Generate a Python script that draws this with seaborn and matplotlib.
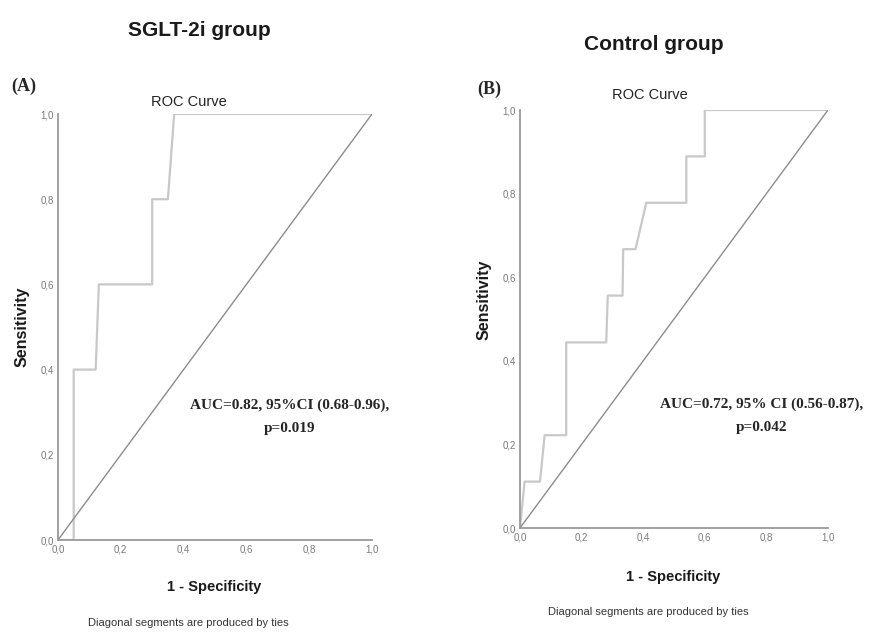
import seaborn as sns
import matplotlib.pyplot as plt
import pandas as pd

# ROC curve points (1 - specificity, sensitivity)
sglt_fpr = [0.0, 0.05, 0.05, 0.12, 0.13, 0.30, 0.30, 0.35, 0.37, 1.0]
sglt_tpr = [0.0, 0.0, 0.4, 0.4, 0.6, 0.6, 0.8, 0.8, 1.0, 1.0]

ctrl_fpr = [0.0, 0.015, 0.065, 0.08, 0.15, 0.15, 0.28, 0.285, 0.333, 0.335,
            0.375, 0.41, 0.54, 0.54, 0.60, 0.60, 1.0]
ctrl_tpr = [0.0, 0.111, 0.111, 0.222, 0.222, 0.444, 0.444, 0.556, 0.556, 0.667,
            0.667, 0.778, 0.778, 0.889, 0.889, 1.0, 1.0]

diag = [0.0, 1.0]
ticks = [0.0, 0.2, 0.4, 0.6, 0.8, 1.0]
tick_labels = ["0,0", "0,2", "0,4", "0,6", "0,8", "1,0"]

groups = ["SGLT-2i group", "Control group"]
panel_tags = ["(A)", "(B)"]
auc_texts = ["AUC=0.82, 95%CI (0.68-0.96),\np=0.019",
             "AUC=0.72, 95% CI (0.56-0.87),\np=0.042"]

sns.set_theme(style="white")
plt.rcParams['font.family'] = ["Liberation Sans", "DejaVu Sans"]

W, H = 870, 632
fig = plt.figure(figsize=(W / 100, H / 100), dpi=100)


def px_axes(left, top, right, bottom):
    return fig.add_axes([left / W, 1 - bottom / H, (right - left) / W, (bottom - top) / H])


def txt(x, y, s, **kw):
    fig.text(x / W, 1 - y / H, s, ha="center", va="center", **kw)


ax_a = px_axes(58, 114, 372, 540)
ax_b = px_axes(520, 110, 828, 528)

curves = [
    pd.DataFrame({"fpr": sglt_fpr, "tpr": sglt_tpr}),
    pd.DataFrame({"fpr": ctrl_fpr, "tpr": ctrl_tpr}),
]

for ax, df in zip([ax_a, ax_b], curves):
    sns.lineplot(data=df, x="fpr", y="tpr", sort=False, estimator=None,
                 color="#c8c8c8", linewidth=1.6, ax=ax)
    sns.lineplot(x=diag, y=diag, sort=False, estimator=None,
                 color="#8c8c8c", linewidth=1.0, ax=ax)
    ax.set_xlim(0, 1)
    ax.set_ylim(0, 1)
    ax.set_xticks(ticks)
    ax.set_yticks(ticks)
    ax.set_xticklabels(tick_labels)
    ax.set_yticklabels(tick_labels)
    ax.tick_params(labelsize=7, colors="#7a7a7a", length=0, pad=3)
    ax.set_xlabel("")
    ax.set_ylabel("")
    for side in ["top", "right"]:
        ax.spines[side].set_visible(False)
    for side in ["left", "bottom"]:
        ax.spines[side].set_color("#9a9a9a")
        ax.spines[side].set_linewidth(1.3)
    ax.set_facecolor("none")

# titles and labels
txt(199, 31, groups[0], fontsize=15, fontweight="bold", color="#1a1a1a")
txt(654, 44, groups[1], fontsize=15, fontweight="bold", color="#1a1a1a")
txt(24, 86, panel_tags[0], fontsize=13, fontweight="bold", family="Liberation Serif")
txt(489, 89, panel_tags[1], fontsize=13, fontweight="bold", family="Liberation Serif")
txt(189, 102, "ROC Curve", fontsize=10.5, color="#222222")
txt(650, 95, "ROC Curve", fontsize=10.5, color="#222222")
txt(22, 327, "Sensitivity", fontsize=11.5, fontweight="bold", rotation=90, color="#1a1a1a")
txt(484, 300, "Sensitivity", fontsize=11.5, fontweight="bold", rotation=90, color="#1a1a1a")
txt(214, 587, "1 - Specificity", fontsize=10.5, fontweight="bold", color="#1a1a1a")
txt(673, 577, "1 - Specificity", fontsize=10.5, fontweight="bold", color="#1a1a1a")
txt(188, 623, "Diagonal segments are produced by ties", fontsize=8, color="#333333")
txt(648, 612, "Diagonal segments are produced by ties", fontsize=8, color="#333333")

# AUC annotations
fig.text(290 / W, 1 - 417 / H, auc_texts[0], ha="center", va="center",
         fontsize=11, fontweight="bold", family="Liberation Serif", linespacing=1.95)
fig.text(762 / W, 1 - 416 / H, auc_texts[1], ha="center", va="center",
         fontsize=11, fontweight="bold", family="Liberation Serif", linespacing=1.95)

fig.savefig("out.png", dpi=100)
